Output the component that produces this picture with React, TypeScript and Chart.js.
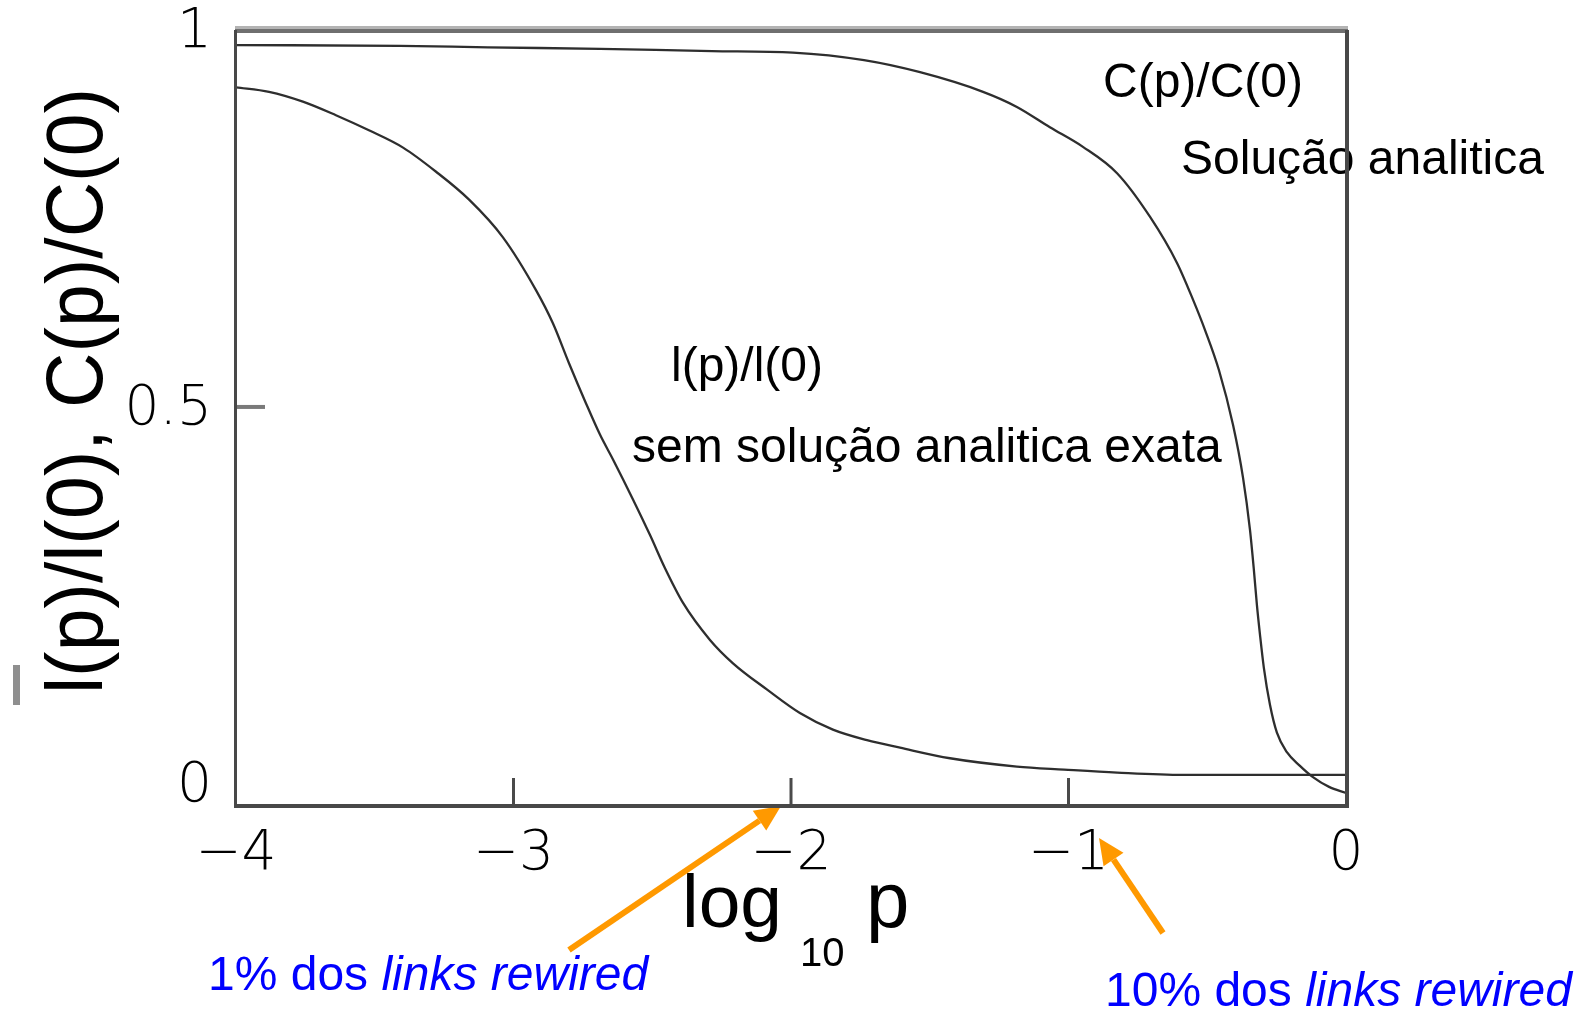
import React, { useEffect, useRef } from "react";
import { Chart, registerables } from "chart.js";

Chart.register(...registerables);

// ---- data ----
const xTickValues = [-4, -3, -2, -1, 0];
const yTickValues = [0, 0.5, 1];
const innerXTicks = [-3, -2, -1];
const innerYTicks = [0.5];

// C(p)/C(0)
const cLogP = [-4, -3.409, -3.092, -2.688, -2.285, -1.993, -1.737, -1.535, -1.308, -1.186, -1.067, -0.948, -0.825, -0.706, -0.609, -0.551, -0.508, -0.458, -0.407, -0.371, -0.346, -0.332, -0.321, -0.31, -0.296, -0.274, -0.249, -0.213, -0.166, -0.119, -0.061, 0];
const cRatio = [0.98, 0.979, 0.977, 0.975, 0.972, 0.97, 0.96, 0.944, 0.918, 0.898, 0.871, 0.845, 0.81, 0.752, 0.691, 0.642, 0.602, 0.549, 0.476, 0.406, 0.337, 0.284, 0.237, 0.198, 0.154, 0.105, 0.068, 0.042, 0.024, 0.009, -0.004, -0.012];

// l(p)/l(0)
const lLogP = [-4, -3.881, -3.759, -3.64, -3.521, -3.398, -3.279, -3.16, -3.038, -2.919, -2.858, -2.8, -2.739, -2.688, -2.641, -2.569, -2.508, -2.454, -2.389, -2.292, -2.209, -2.086, -1.968, -1.849, -1.726, -1.607, -1.427, -1.186, -1.016, -0.825, -0.587, 0];
const lRatio = [0.924, 0.918, 0.905, 0.887, 0.867, 0.844, 0.812, 0.775, 0.725, 0.655, 0.611, 0.558, 0.505, 0.463, 0.43, 0.377, 0.33, 0.286, 0.24, 0.191, 0.16, 0.125, 0.094, 0.072, 0.058, 0.048, 0.034, 0.023, 0.019, 0.015, 0.012, 0.012];

const labelC1 = "C(p)/C(0)";
const labelC2 = "Solução analitica";
const labelL1 = "l(p)/l(0)";
const labelL2 = "sem solução analitica exata";
const note1Plain = "1% dos ";
const note2Plain = "10% dos ";
const noteItalic = "links rewired";
const yTitle = "l(p)/l(0), C(p)/C(0)";

const SANS = '"Liberation Sans", Arial, Helvetica, sans-serif';
const TICK_FONT = '200 55px "DejaVu Sans", sans-serif';

function fmtTick(v: number): string {
  if (v < 0) return "\u2212" + String(Math.abs(v));
  return String(v);
}

function drawArrow(ctx: CanvasRenderingContext2D, x0: number, y0: number, x1: number, y1: number) {
  const ang = Math.atan2(y1 - y0, x1 - x0);
  const headLen = 26;
  const headW = 12;
  const bx = x1 - headLen * Math.cos(ang);
  const by = y1 - headLen * Math.sin(ang);
  ctx.save();
  ctx.strokeStyle = "#ff9900";
  ctx.fillStyle = "#ff9900";
  ctx.lineWidth = 6;
  ctx.beginPath();
  ctx.moveTo(x0, y0);
  ctx.lineTo(bx, by);
  ctx.stroke();
  ctx.beginPath();
  ctx.moveTo(x1, y1);
  ctx.lineTo(bx + headW * Math.sin(ang), by - headW * Math.cos(ang));
  ctx.lineTo(bx - headW * Math.sin(ang), by + headW * Math.cos(ang));
  ctx.closePath();
  ctx.fill();
  ctx.restore();
}

const decorPlugin = {
  id: "decor",
  afterDraw(chart: any) {
    const ctx: CanvasRenderingContext2D = chart.ctx;
    const { left, right, top, bottom } = chart.chartArea;
    const xs = chart.scales.x;
    const ys = chart.scales.y;
    ctx.save();

    // y tick labels
    ctx.fillStyle = "#000";
    ctx.font = TICK_FONT;
    ctx.textAlign = "right";
    ctx.textBaseline = "middle";
    yTickValues.forEach((v) => {
      ctx.fillText(fmtTick(v), left - 24, ys.getPixelForValue(v) + 3);
    });

    // annotation texts
    ctx.textAlign = "left";
    ctx.textBaseline = "alphabetic";
    ctx.font = `48px ${SANS}`;
    ctx.fillText(labelC1, 1103, 97);
    ctx.fillText(labelC2, 1181, 174);
    ctx.fillText(labelL1, 671, 381);
    ctx.fillText(labelL2, 632, 462);

    // blue notes
    ctx.fillStyle = "#0000ff";
    ctx.font = `48px ${SANS}`;
    let w = ctx.measureText(note1Plain).width;
    ctx.fillText(note1Plain, 208, 990);
    ctx.font = `italic 48px ${SANS}`;
    ctx.fillText(noteItalic, 208 + w, 990);
    ctx.font = `48px ${SANS}`;
    w = ctx.measureText(note2Plain).width;
    ctx.fillText(note2Plain, 1105, 1006);
    ctx.font = `italic 48px ${SANS}`;
    ctx.fillText(noteItalic, 1105 + w, 1006);

    // x title: log10 p
    ctx.fillStyle = "#000";
    ctx.font = `75px ${SANS}`;
    ctx.fillText("log", 682, 927);
    ctx.font = `40px ${SANS}`;
    ctx.fillText("10", 800, 966);
    ctx.font = `78px ${SANS}`;
    ctx.fillText("p", 866, 927);

    // y title (rotated)
    ctx.save();
    ctx.translate(102, 694);
    ctx.rotate(-Math.PI / 2);
    ctx.font = `80px ${SANS}`;
    const tw = ctx.measureText(yTitle).width;
    ctx.scale(606 / tw, 1);
    ctx.fillText(yTitle, 0, 0);
    ctx.restore();
    ctx.fillStyle = "#8f8f8f";
    ctx.fillRect(13, 665, 7, 40);

    // arrows
    drawArrow(ctx, 569, 950, 781, 806);
    drawArrow(ctx, 1163, 933, 1099, 838);

    // inner tick marks
    ctx.lineCap = "butt";
    ctx.strokeStyle = "#4a4a4a";
    ctx.lineWidth = 3;
    innerXTicks.forEach((v) => {
      const x = xs.getPixelForValue(v);
      ctx.beginPath();
      ctx.moveTo(x, bottom);
      ctx.lineTo(x, bottom - 27);
      ctx.stroke();
    });
    ctx.strokeStyle = "#7a7a7a";
    ctx.lineWidth = 4;
    innerYTicks.forEach((v) => {
      const y = ys.getPixelForValue(v);
      ctx.beginPath();
      ctx.moveTo(left, y);
      ctx.lineTo(left + 29, y);
      ctx.stroke();
    });

    // frame
    ctx.fillStyle = "#b3b3b3";
    ctx.fillRect(left - 1, top - 4, right - left + 3, 3);
    ctx.fillStyle = "#6f6f6f";
    ctx.fillRect(left - 1, top - 1, right - left + 3, 4);
    ctx.fillStyle = "#484848";
    ctx.fillRect(left - 2, top, 3, bottom - top + 2);
    ctx.fillRect(left - 2, bottom - 1, right - left + 4, 4);
    ctx.fillRect(right - 1, top, 4, bottom - top + 3);

    ctx.restore();
  },
};

export default function App() {
  const ref = useRef<HTMLCanvasElement | null>(null);

  useEffect(() => {
    if (!ref.current) return;
    const tickFont = { family: '"DejaVu Sans", sans-serif', size: 55, weight: "200" as any };
    const chart = new Chart(ref.current, {
      type: "line",
      data: {
        datasets: [
          {
            label: labelC1,
            data: cLogP.map((x, i) => ({ x, y: cRatio[i] })),
            borderColor: "#2e2e2e",
            borderWidth: 2.3,
            pointRadius: 0,
            fill: false,
            cubicInterpolationMode: "monotone",
          },
          {
            label: labelL1,
            data: lLogP.map((x, i) => ({ x, y: lRatio[i] })),
            borderColor: "#2e2e2e",
            borderWidth: 2.3,
            pointRadius: 0,
            fill: false,
            cubicInterpolationMode: "monotone",
          },
        ],
      },
      options: {
        animation: false,
        responsive: false,
        maintainAspectRatio: false,
        layout: { padding: { left: 0, top: 30, right: 248, bottom: 0 } },
        plugins: {
          legend: { display: false },
          tooltip: { enabled: false },
        },
        scales: {
          x: {
            type: "linear",
            min: -4,
            max: 0,
            afterBuildTicks: (s: any) => {
              s.ticks = xTickValues.map((v) => ({ value: v }));
            },
            afterFit: (s: any) => {
              s.height = 206;
            },
            grid: { display: false, drawTicks: false },
            border: { display: false },
            ticks: {
              font: tickFont,
              color: "#000",
              padding: 17,
              autoSkip: false,
              maxRotation: 0,
              callback: (v: any) => fmtTick(Number(v)),
            },
          },
          y: {
            type: "linear",
            min: -0.028,
            max: 1,
            afterBuildTicks: (s: any) => {
              s.ticks = yTickValues.map((v) => ({ value: v }));
            },
            afterFit: (s: any) => {
              s.width = 236;
            },
            grid: { display: false, drawTicks: false },
            border: { display: false },
            ticks: { display: false },
          },
        },
      },
      plugins: [decorPlugin],
    } as any);
    return () => chart.destroy();
  }, []);

  return (
    <div style={{ position: "absolute", left: 0, top: 0, width: 1594, height: 1011, background: "#fff" }}>
      <canvas ref={ref} width={1594} height={1011} style={{ display: "block", width: 1594, height: 1011 }} />
    </div>
  );
}
